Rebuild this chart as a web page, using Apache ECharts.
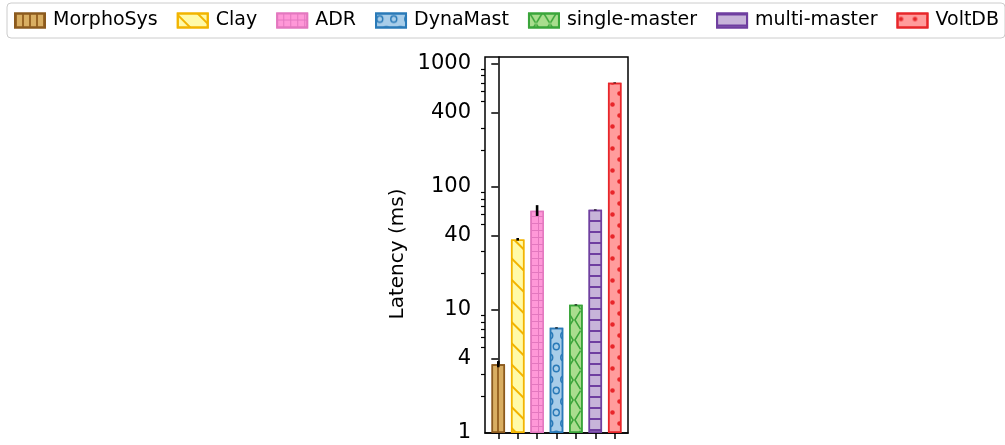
<!DOCTYPE html>
<html><head><meta charset="utf-8">
<script src="https://cdn.jsdelivr.net/npm/echarts@6/dist/echarts.min.js"></script>
<style>html,body{margin:0;padding:0;background:#fff}#c{width:1005px;height:445px}</style>
</head><body><div id="c"></div>
<script>
const systems = ['MorphoSys', 'Clay', 'ADR', 'DynaMast', 'single-master', 'multi-master', 'VoltDB'];
const latency = [3.62, 37.4, 64, 7.15, 11.0, 65, 700];
const errLow  = [3.42, 36.6, 58, 7.08, 10.9, 64.4, 695];
const errHigh = [3.84, 38.4, 71, 7.22, 11.1, 65.6, 705];
const majorTicks = [1, 4, 10, 40, 100, 400, 1000];
const minorTicks = [2, 3, 5, 6, 7, 8, 9, 20, 30, 50, 60, 70, 80, 90, 200, 300, 500, 600, 700, 800, 900];
const xTicks = [0, 1, 2, 3, 4, 5, 6];

const FONT = 'DejaVu Sans';
// tile 14 x 22 with tiny corner anchors so the path box equals the tile
const anchors = 'M0 0h0.01v0.01h-0.01ZM13.99 21.99h0.01v0.01h-0.01Z';
const ringTile = 'path://' + anchors +
  'M3.5 1.5A4 4 0 1 1 3.5 9.5A4 4 0 1 1 3.5 1.5ZM3.5 3A2.5 2.5 0 1 0 3.5 8A2.5 2.5 0 1 0 3.5 3Z' +
  'M10.5 12.5A4 4 0 1 1 10.5 20.5A4 4 0 1 1 10.5 12.5ZM10.5 14A2.5 2.5 0 1 0 10.5 19A2.5 2.5 0 1 0 10.5 14Z';
const dotTile = 'path://' + anchors +
  'M3.5 3.2A2.3 2.3 0 1 1 3.5 7.8A2.3 2.3 0 1 1 3.5 3.2Z' +
  'M10.5 14.2A2.3 2.3 0 1 1 10.5 18.8A2.3 2.3 0 1 1 10.5 14.2Z';
const xShape = 'path://M0 0L1.8 0L14 20L12.2 20ZM14 0L12.2 0L0 20L1.8 20Z';

const styles = [
  { color: '#d9ae62', border: '#8b5a1e', decal: { symbol: 'rect', color: '#9a6624', dashArrayX: [2, 5], dashArrayY: [1, 0], symbolSize: 1 } },
  { color: '#fffaa8', border: '#f2b400', decal: { symbol: 'rect', color: '#f2b400', dashArrayX: [1, 0], dashArrayY: [2, 13], rotation: Math.PI / 4, symbolSize: 1 } },
  { color: '#e378bf', border: '#e378bf', decal: { symbol: 'rect', color: '#ff98d8', dashArrayX: [6, 1], dashArrayY: [6, 1], symbolSize: 1 } },
  { color: '#a8cde9', border: '#2a7ab8', decal: { symbol: ringTile, color: '#2a7ab8', dashArrayX: [14, 0], dashArrayY: [22, 0], symbolSize: 1, symbolKeepAspect: false } },
  { color: '#a9dd8e', border: '#3aa53a', decal: { symbol: xShape, color: '#3aa53a', dashArrayX: [14, 0], dashArrayY: [20, 0], symbolSize: 1, symbolKeepAspect: false } },
  { color: '#c7b4d9', border: '#6f3fa0', decal: { symbol: 'rect', color: '#6f3fa0', dashArrayX: [1, 0], dashArrayY: [2, 9], symbolSize: 1 } },
  { color: '#ff9c9c', border: '#e8262a', decal: { symbol: dotTile, color: '#e8262a', dashArrayX: [14, 0], dashArrayY: [22, 0], symbolSize: 1, symbolKeepAspect: false } }
];

const barSeries = systems.map((name, i) => ({
  type: 'bar',
  name: name,
  data: [[i, latency[i]]],
  barWidth: 13.5,
  barGap: '-100%',
  itemStyle: {
    color: styles[i].color,
    borderColor: styles[i].border,
    borderWidth: 1.5,
    decal: styles[i].decal
  },
  emphasis: { disabled: true }
}));

const errSeries = {
  type: 'custom',
  name: 'error',
  xAxisIndex: 0,
  yAxisIndex: 0,
  z: 10,
  data: systems.map((s, i) => [i, errLow[i], errHigh[i]]),
  encode: { x: 0, y: [1, 2] },
  renderItem: function (params, api) {
    const x = api.value(0);
    const p1 = api.coord([x, api.value(1)]);
    const p2 = api.coord([x, api.value(2)]);
    return {
      type: 'line',
      shape: { x1: p1[0], y1: p1[1], x2: p2[0], y2: p2[1] },
      style: { stroke: '#000', lineWidth: 2.6 }
    };
  }
};

const chart = echarts.init(document.getElementById('c'), null, { renderer: 'canvas' });
chart.setOption({
  animation: false,
  backgroundColor: '#fff',
  textStyle: { fontFamily: FONT },
  legend: {
    data: systems,
    top: 3,
    left: 7,
    width: 998,
    padding: [8, 6, 8, 7],
    itemGap: 19,
    itemWidth: 30,
    itemHeight: 14,
    icon: 'rect',
    borderColor: '#cccccc',
    borderWidth: 1,
    borderRadius: 4,
    backgroundColor: '#fff',
    textStyle: { fontFamily: FONT, fontSize: 19, color: '#000', padding: [0, 0, 0, 3] }
  },
  grid: {
    left: 485, right: 377, top: 57, bottom: 12,
    show: true, borderColor: '#000', borderWidth: 1.5, backgroundColor: 'transparent'
  },
  xAxis: {
    type: 'value',
    min: -0.685,
    max: 6.685,
    axisLine: { show: true, lineStyle: { color: '#000', width: 1.5 } },
    axisTick: { show: true, customValues: xTicks, length: 6, lineStyle: { color: '#000', width: 1.5 } },
    axisLabel: { show: false, customValues: xTicks },
    splitLine: { show: false }
  },
  yAxis: [
    {
      type: 'log',
      logBase: 10,
      min: 1,
      max: 1135,
      position: 'left',
      name: 'Latency (ms)',
      nameLocation: 'middle',
      nameGap: 77,
      nameTextStyle: { fontFamily: FONT, fontSize: 20, color: '#000', padding: [0, 18, 0, 0] },
      axisLine: { show: true, lineStyle: { color: '#000', width: 1.5 } },
      axisTick: { show: true, customValues: majorTicks, length: 7, lineStyle: { color: '#000', width: 1.5 } },
      axisLabel: { show: true, customValues: majorTicks, fontFamily: FONT, fontSize: 21, color: '#000', margin: 14,
        formatter: function (v) { return String(Math.round(v)); } },
      splitLine: { show: false }
    },
    {
      type: 'log',
      logBase: 10,
      min: 1,
      max: 1135,
      position: 'left',
      axisLine: { show: false },
      axisTick: { show: true, customValues: minorTicks, length: 4, lineStyle: { color: '#000', width: 1.2 } },
      axisLabel: { show: false, customValues: minorTicks },
      splitLine: { show: false }
    }
  ],
  series: barSeries.concat([errSeries])
});
</script>
</body></html>
